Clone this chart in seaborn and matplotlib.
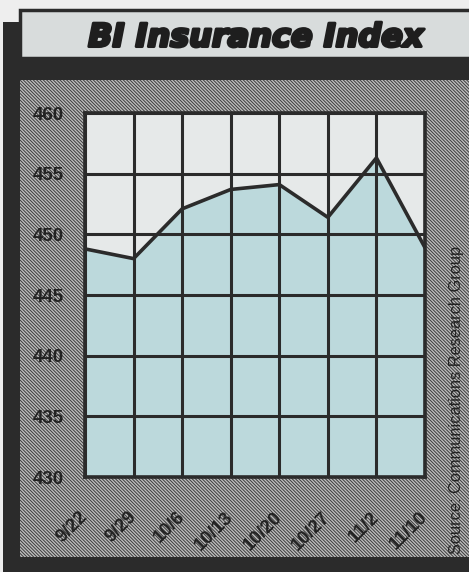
import matplotlib
matplotlib.use("Agg")
import matplotlib.pyplot as plt
import matplotlib.transforms as mtransforms
import matplotlib.patheffects as pe
from matplotlib.patches import Rectangle
import seaborn as sns
import pandas as pd
import numpy as np

# ---- data ----
dates = ["9/22", "9/29", "10/6", "10/13", "10/20", "10/27", "11/2", "11/10"]
index_values = [448.8, 448.0, 452.1, 453.7, 454.1, 451.4, 456.3, 448.9]
y_ticks = [430, 435, 440, 445, 450, 455, 460]
title_text = "BI Insurance Index"
source_text = "Source: Communications Research Group"

W, H = 469, 572
DARK = "#2b2b2b"

sns.set_theme(style="white")
plt.rcParams["font.family"] = ["Liberation Sans", "DejaVu Sans"]
plt.rcParams["hatch.linewidth"] = 0.7

fig = plt.figure(figsize=(W / 100, H / 100), dpi=100)
fig.patch.set_facecolor("#eeeeee")


def box(x0, y0, x1, y1, **kw):
    r = Rectangle((x0 / W, 1 - y1 / H), (x1 - x0) / W, (y1 - y0) / H,
                  transform=fig.transFigure, **kw)
    fig.add_artist(r)
    return r


# frame pieces
box(3, 22, W, H, facecolor=DARK, edgecolor="none", zorder=-10)
box(20, 80, W, 557, facecolor="#bdbdbd", edgecolor="#3c3c3c", linewidth=0,
    hatch="\\" * 10, zorder=-9)
box(20, 10, W + 2, 58, facecolor="#d8dcdc", edgecolor=DARK, linewidth=2.5,
    zorder=-8)

fig.text(256 / W, 1 - 38 / H, title_text, ha="center", va="center",
         fontsize=23, fontweight="bold", style="italic", color="#1e1e1e",
         family=["DejaVu Sans"],
         path_effects=[pe.withStroke(linewidth=2.2, foreground="#1e1e1e")])

# ---- axes ----
ax = fig.add_axes([85 / W, 1 - 477 / H, 340 / W, 364 / H])
ax.set_facecolor("#e6e9e9")

df = pd.DataFrame({"x": np.arange(len(dates)), "value": index_values})
ax.fill_between(df["x"], 430, df["value"], color="#bcd9dc", linewidth=0,
                zorder=1)
sns.lineplot(data=df, x="x", y="value", ax=ax, color=DARK, linewidth=2.6,
             zorder=3)

ax.set_xlim(0, len(dates) - 1)
ax.set_ylim(y_ticks[0], y_ticks[-1])
ax.set_xticks(df["x"])
ax.set_yticks(y_ticks)
ax.set_yticklabels([str(t) for t in y_ticks])
ax.set_xticklabels(dates, rotation=45, ha="right", va="center",
                   rotation_mode="anchor")
offset = mtransforms.ScaledTranslation(5 / 100, 0, fig.dpi_scale_trans)
for lab in ax.get_xticklabels():
    lab.set_transform(lab.get_transform() + offset)

ax.grid(True, color=DARK, linewidth=2.2, zorder=2)
ax.set_axisbelow(False)
for s in ax.spines.values():
    s.set_color(DARK)
    s.set_linewidth(2.6)
    s.set_zorder(4)

ax.tick_params(axis="y", length=0, pad=15, labelsize=13.5, labelcolor="#222222")
ax.tick_params(axis="x", length=6, width=2.2, color=DARK, pad=21,
               labelsize=13.5, labelcolor="#222222")
for lab in ax.get_xticklabels() + ax.get_yticklabels():
    lab.set_fontweight("bold")
ax.set_xlabel("")
ax.set_ylabel("")

fig.text(456 / W, 1 - 554 / H, source_text, rotation=90, ha="left",
         va="center", rotation_mode="anchor", fontsize=11.8, color="#222222")

fig.savefig("out.png", dpi=100, facecolor=fig.get_facecolor())
